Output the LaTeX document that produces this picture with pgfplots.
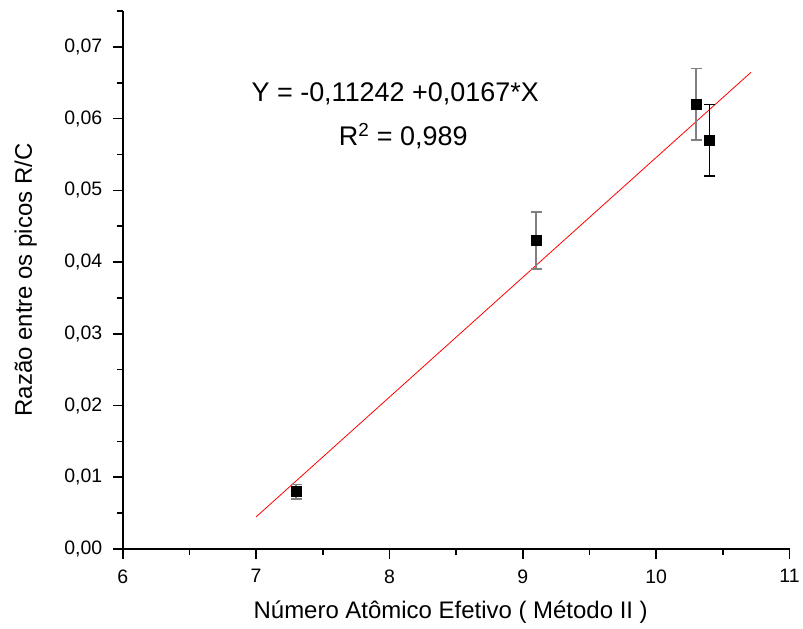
\documentclass[border=0pt]{standalone}
\usepackage{fontspec}
\setmainfont{Liberation Sans}
\usepackage{pgfplots}
\pgfplotsset{compat=1.18}
\begin{document}
\begin{tikzpicture}
\begin{axis}[
  scale only axis,
  width=668pt, height=539pt,
  xmin=6, xmax=11, ymin=0, ymax=0.075,
  axis lines=left,
  axis line style={-, line width=1.6pt},
  xtick={6,7,8,9,10,11},
  ytick={0,0.01,0.02,0.03,0.04,0.05,0.06,0.07},
  minor x tick num=1,
  minor ytick={0.005,0.015,0.025,0.035,0.045,0.055,0.065,0.075},
  tick align=outside,
  major tick length=10pt,
  minor tick length=6pt,
  every tick/.style={line width=1.6pt, black},
  /pgf/number format/assume math mode=true,
  scaled y ticks=false,
  ticklabel style={font=\fontsize{19.5}{22}\selectfont},
  yticklabel style={xshift=-7pt, /pgf/number format/.cd, fixed, fixed zerofill, precision=2, use comma},
  xticklabel style={yshift=-7pt},
  xlabel={Número Atômico Efetivo ( Método II )},
  ylabel={Razão entre os picos R/C},
  every axis x label/.style={at={(axis description cs:0.4918,-0.130)}, anchor=base, font=\fontsize{24}{28}\selectfont},
  every axis y label/.style={at={(axis description cs:-0.1362,0.5)}, anchor=base, rotate=90, font=\fontsize{24}{28}\selectfont},
  clip=false,
]
\path (rel axis cs:-0.1841,1.0204) -- (rel axis cs:1.018,-0.1484);
\addplot[red, line width=0.8pt, no marks] coordinates {(7,0.00448) (10.71,0.06644)};
\addplot[only marks, mark=square*, mark size=5pt, black,
  error bars/.cd, y dir=both, y explicit,
  error bar style={gray, line width=1.6pt},
  error mark options={rotate=90, mark size=5.5pt, gray, line width=1.6pt}]
  coordinates {
  (7.3,0.008) +- (0,0.001)
  (9.1,0.043) +- (0,0.004)
  (10.3,0.062) +- (0,0.005)
};
\addplot[only marks, mark=square*, mark size=5pt, black,
  error bars/.cd, y dir=both, y explicit,
  error bar style={black, line width=1.2pt},
  error mark options={rotate=90, mark size=5.5pt, black, line width=1.2pt}]
  coordinates {
  (10.4,0.057) +- (0,0.005)
};
\node[anchor=base, font=\fontsize{27}{32}\selectfont, inner sep=0pt] at (axis cs:8.043,0.06239) {Y = -0,11242 +0,0167*X};
\node[anchor=base, font=\fontsize{27}{32}\selectfont, inner sep=0pt] at (axis cs:8.103,0.05622) {R\textsuperscript{2} = 0,989};
\end{axis}
\end{tikzpicture}
\end{document}
